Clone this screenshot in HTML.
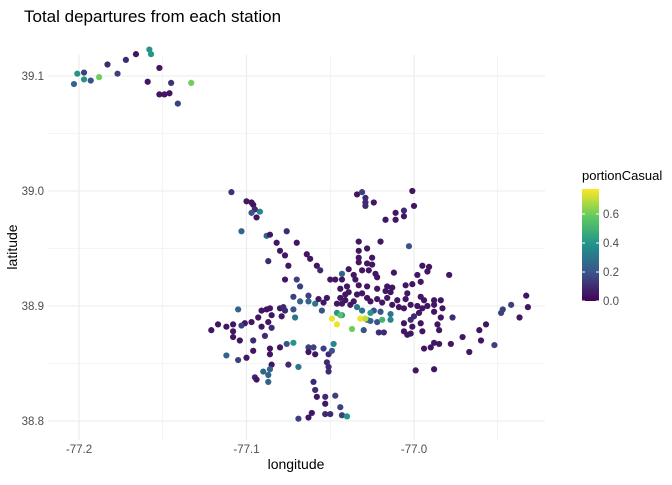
<!DOCTYPE html>
<html><head><meta charset="utf-8"><style>
body{margin:0;background:#fff;font-family:"Liberation Sans",sans-serif}
</style></head><body>
<svg width="672" height="480" viewBox="0 0 672 480" xmlns="http://www.w3.org/2000/svg">
<defs><linearGradient id="vg" x1="0" y1="1" x2="0" y2="0">
<stop offset="0" stop-color="#440154"/><stop offset="0.25" stop-color="#3b528b"/><stop offset="0.5" stop-color="#21918c"/><stop offset="0.75" stop-color="#5ec962"/><stop offset="1" stop-color="#fde725"/></linearGradient></defs>
<text x="24" y="22" font-size="17" fill="#000">Total departures from each station</text>
<g id="grid"></g>
<g id="pts"></g>
<g id="axes"></g>
<text x="296" y="469" font-size="14" text-anchor="middle">longitude</text>
<text transform="translate(17,247) rotate(-90)" font-size="14" text-anchor="middle">latitude</text>
<g>
<text x="582" y="180" font-size="13">portionCasual</text>
<rect x="582" y="189" width="17" height="112" fill="url(#vg)"/>
<g id="leg"></g>
</g>
</svg>
<script>
const lon=[-77.109,-77.100,-77.097,-77.096,-77.095,-77.097,-77.092,-77.094,-77.103,-77.088,-77.086,-77.076,-77.082,-77.070,-77.080,-77.077,-77.087,-77.075,-77.064,-77.062,-77.058,-77.056,-77.077,-77.070,-77.068,-77.072,-77.063,-77.068,-77.063,-77.059,-77.057,-77.054,-77.052,-77.055,-77.105,-77.091,-77.088,-77.086,-77.085,-77.080,-77.078,-77.077,-77.079,-77.072,-77.071,-77.093,-77.097,-77.101,-77.103,-77.108,-77.112,-77.117,-77.121,-77.108,-77.108,-77.104,-77.091,-77.087,-77.085,-77.089,-77.096,-77.112,-77.105,-77.100,-77.096,-77.086,-77.086,-77.080,-77.076,-77.072,-77.085,-77.075,-77.069,-77.090,-77.086,-77.087,-77.095,-77.094,-77.087,-77.063,-77.060,-77.063,-77.059,-77.054,-77.051,-77.049,-77.048,-77.052,-77.051,-77.051,-77.060,-77.059,-77.058,-77.053,-77.047,-77.053,-77.044,-77.061,-77.063,-77.053,-77.050,-77.043,-77.040,-77.069,
-77.034,-77.031,-77.029,-77.029,-77.029,-77.024,-77.001,-77.000,-77.006,-77.011,-77.011,-77.017,-77.006,-77.003,-77.020,-77.033,-77.033,-77.028,-77.025,-77.033,-77.033,-77.025,-77.028,-77.039,-77.043,-77.050,-77.047,-77.043,-77.036,-77.031,-77.027,-77.023,-77.022,-77.012,-77.035,-77.033,-77.028,-77.022,-77.016,-77.017,-77.013,-77.014,-77.005,-77.001,-76.996,-76.998,-76.995,-76.991,-76.992,-76.979,-77.044,-77.040,-77.039,-77.041,-77.044,-77.046,-77.043,-77.041,-77.038,-77.036,-77.034,-77.031,-77.028,-77.026,-77.022,-77.019,-77.016,-77.013,-77.009,-77.010,-77.004,-77.005,-77.006,-77.002,-76.998,-76.996,-76.994,-76.995,-76.992,-76.988,-76.988,-76.984,-76.983,-76.988,-76.984,-76.977,-76.997,-77.000,-77.002,-77.006,-77.001,-76.996,-76.995,-77.006,-77.004,-77.002,-76.986,-76.985,-76.988,-76.985,-76.990,-76.994,-76.978,-76.971,-76.967,-76.961,-76.960,-76.957,-76.952,-76.948,-76.947,-76.942,-76.937,-76.933,-76.932,-76.999,-76.988,
-77.203,-77.201,-77.197,-77.197,-77.193,-77.188,-77.183,-77.177,-77.172,-77.166,-77.158,-77.157,-77.152,-77.159,-77.145,-77.152,-77.149,-77.146,-77.141,-77.133,
-77.034,-77.031,-77.024,-77.020,-77.014,-77.028,-77.026,-77.022,-77.030,-77.021,-77.018,-77.046,-77.043,-77.026,-77.019,-77.014,-77.044,-77.037,-77.046,-77.049,-77.032,-77.029];
const lat=[38.999,38.991,38.990,38.988,38.984,38.981,38.982,38.977,38.965,38.961,38.962,38.965,38.955,38.955,38.948,38.944,38.939,38.935,38.945,38.941,38.935,38.931,38.923,38.923,38.917,38.908,38.909,38.904,38.904,38.902,38.906,38.903,38.907,38.896,38.897,38.896,38.897,38.898,38.892,38.898,38.899,38.896,38.891,38.897,38.890,38.890,38.886,38.885,38.883,38.884,38.882,38.884,38.879,38.878,38.873,38.870,38.882,38.886,38.881,38.874,38.870,38.857,38.853,38.855,38.861,38.863,38.858,38.864,38.867,38.868,38.849,38.849,38.847,38.843,38.845,38.840,38.838,38.836,38.834,38.864,38.864,38.860,38.858,38.863,38.858,38.861,38.867,38.851,38.847,38.843,38.834,38.827,38.821,38.821,38.822,38.815,38.812,38.807,38.803,38.806,38.806,38.805,38.804,38.802,
38.997,38.999,38.994,38.990,38.987,38.990,39.000,38.987,38.983,38.981,38.975,38.975,38.978,38.952,38.956,38.956,38.948,38.950,38.942,38.942,38.938,38.936,38.937,38.932,38.928,38.923,38.923,38.923,38.927,38.931,38.931,38.928,38.925,38.929,38.923,38.918,38.917,38.915,38.917,38.913,38.916,38.912,38.918,38.919,38.921,38.927,38.935,38.934,38.930,38.927,38.915,38.917,38.912,38.910,38.907,38.902,38.902,38.905,38.901,38.904,38.910,38.911,38.907,38.904,38.906,38.903,38.907,38.901,38.899,38.905,38.911,38.906,38.898,38.901,38.900,38.908,38.905,38.898,38.900,38.905,38.901,38.905,38.898,38.895,38.890,38.890,38.894,38.891,38.888,38.885,38.882,38.885,38.878,38.878,38.875,38.876,38.884,38.879,38.868,38.867,38.864,38.863,38.867,38.873,38.860,38.879,38.870,38.884,38.866,38.894,38.897,38.901,38.890,38.909,38.899,38.844,38.845,
39.093,39.102,39.103,39.097,39.096,39.099,39.110,39.102,39.114,39.119,39.123,39.119,39.107,39.095,39.094,39.084,39.084,39.085,39.076,39.094,
38.899,38.896,38.896,38.895,38.893,38.888,38.887,38.886,38.879,38.877,38.877,38.894,38.892,38.894,38.888,38.888,38.892,38.880,38.884,38.889,38.889,38.889];
const casual=[0.12,0.05,0.05,0.05,0.1,0.2,0.35,0.05,0.25,0.25,0.05,0.1,0.05,0.05,0.05,0.05,0.1,0.05,0.05,0.05,0.05,0.1,0.05,0.15,0.15,0.15,0.15,0.25,0.25,0.3,0.05,0.05,0.05,0.2,0.25,0.05,0.05,0.05,0.05,0.05,0.1,0.1,0.05,0.2,0.3,0.05,0.05,0.05,0.15,0.05,0.05,0.05,0.05,0.05,0.05,0.05,0.05,0.05,0.1,0.1,0.1,0.25,0.15,0.05,0.05,0.05,0.05,0.05,0.2,0.4,0.05,0.1,0.3,0.25,0.25,0.25,0.1,0.05,0.25,0.15,0.15,0.05,0.05,0.15,0.1,0.2,0.35,0.1,0.1,0.1,0.1,0.1,0.05,0.1,0.15,0.05,0.15,0.05,0.05,0.1,0.1,0.15,0.4,0.15,
0.05,0.15,0.1,0.1,0.1,0.05,0.05,0.05,0.1,0.05,0.05,0.05,0.05,0.2,0.05,0.05,0.05,0.05,0.05,0.05,0.05,0.05,0.05,0.05,0.25,0.05,0.05,0.05,0.05,0.05,0.05,0.05,0.05,0.05,0.05,0.05,0.05,0.05,0.05,0.05,0.05,0.05,0.05,0.05,0.05,0.05,0.05,0.05,0.05,0.05,0.05,0.05,0.05,0.05,0.05,0.05,0.05,0.05,0.05,0.05,0.05,0.05,0.05,0.05,0.05,0.05,0.05,0.05,0.05,0.05,0.05,0.05,0.05,0.05,0.05,0.05,0.05,0.05,0.05,0.05,0.05,0.05,0.05,0.05,0.05,0.1,0.05,0.1,0.1,0.05,0.05,0.05,0.05,0.05,0.05,0.05,0.05,0.05,0.05,0.05,0.05,0.05,0.05,0.05,0.05,0.05,0.05,0.05,0.15,0.15,0.15,0.15,0.05,0.05,0.05,0.05,0.05,
0.25,0.4,0.15,0.4,0.2,0.6,0.1,0.15,0.1,0.05,0.4,0.4,0.05,0.05,0.12,0.05,0.05,0.05,0.15,0.6,
0.3,0.3,0.2,0.2,0.3,0.25,0.25,0.2,0.2,0.1,0.1,0.4,0.4,0.4,0.5,0.35,0.55,0.6,0.75,0.75,0.75,0.7];
const xTicks=[-77.2,-77.1,-77.0];
const xTickLabels=["-77.2","-77.1","-77.0"];
const yTicks=[38.8,38.9,39.0,39.1];
const yTickLabels=["38.8","38.9","39.0","39.1"];
const legTicks=[0,0.2,0.4,0.6];
const legTickLabels=["0.0","0.2","0.4","0.6"];

const NS='http://www.w3.org/2000/svg';
const X0=-77.2,PX0=79,KX=1675,Y0=39.1,PY0=76,KY=1150;
function sx(v){return PX0+(v-X0)*KX;}
function sy(v){return PY0+(Y0-v)*KY;}
const L=48,R=545,T=55,B=440;
const vir=[[68,1,84],[59,82,139],[33,145,140],[94,201,98],[253,231,37]];
const CMAX=0.77;
function col(v){let t=Math.max(0,Math.min(1,v/CMAX))*4;let i=Math.min(3,Math.floor(t)),f=t-i;const a=vir[i],b=vir[i+1];return 'rgb('+a.map((c,k)=>Math.round(c+(b[k]-c)*f)).join(',')+')';}
function mk(tag,at,par){const e=document.createElementNS(NS,tag);for(const k in at)e.setAttribute(k,at[k]);par.appendChild(e);return e;}
const g=document.getElementById('grid');
for(let v=-77.25;v<=-76.9;v+=0.05){const x=sx(v);if(x<L||x>R)continue;const major=Math.abs(Math.round(v*10)-v*10)<1e-6;
const l=mk('line',{x1:x,x2:x,y1:T,y2:B,stroke:'#ebebeb','stroke-width':major?1.1:0.55},g);

}
for(let v=38.75;v<=39.15;v+=0.05){const y=sy(v);if(y<T||y>B)continue;const major=Math.abs(Math.round(v*10)-v*10)<1e-6;
const l=mk('line',{x1:L,x2:R,y1:y,y2:y,stroke:'#ebebeb','stroke-width':major?1.1:0.55},g);

}
const ax=document.getElementById('axes');
xTicks.forEach((v,i)=>{const t=mk('text',{x:sx(v),y:453,'font-size':11.5,'text-anchor':'middle',fill:'#4d4d4d'},ax);t.textContent=xTickLabels[i];

});
yTicks.forEach((v,i)=>{const t=mk('text',{x:44,y:sy(v)+4,'font-size':11.5,'text-anchor':'end',fill:'#4d4d4d'},ax);t.textContent=yTickLabels[i];

});
const pg=document.getElementById('pts');
for(let i=0;i<lon.length;i++){const c=mk('circle',{cx:sx(lon[i]),cy:sy(lat[i]),r:3.1,fill:col(casual[i])},pg);

}
const lg=document.getElementById('leg');
legTicks.forEach((v,i)=>{const y=301-v/0.2*29;
mk('line',{x1:582,x2:585,y1:y,y2:y,stroke:'#fff'},lg);mk('line',{x1:596,x2:599,y1:y,y2:y,stroke:'#fff'},lg);
const t=mk('text',{x:603,y:y+4,'font-size':11.5,fill:'#4d4d4d'},lg);t.textContent=legTickLabels[i];

});
</script>
</body></html>
